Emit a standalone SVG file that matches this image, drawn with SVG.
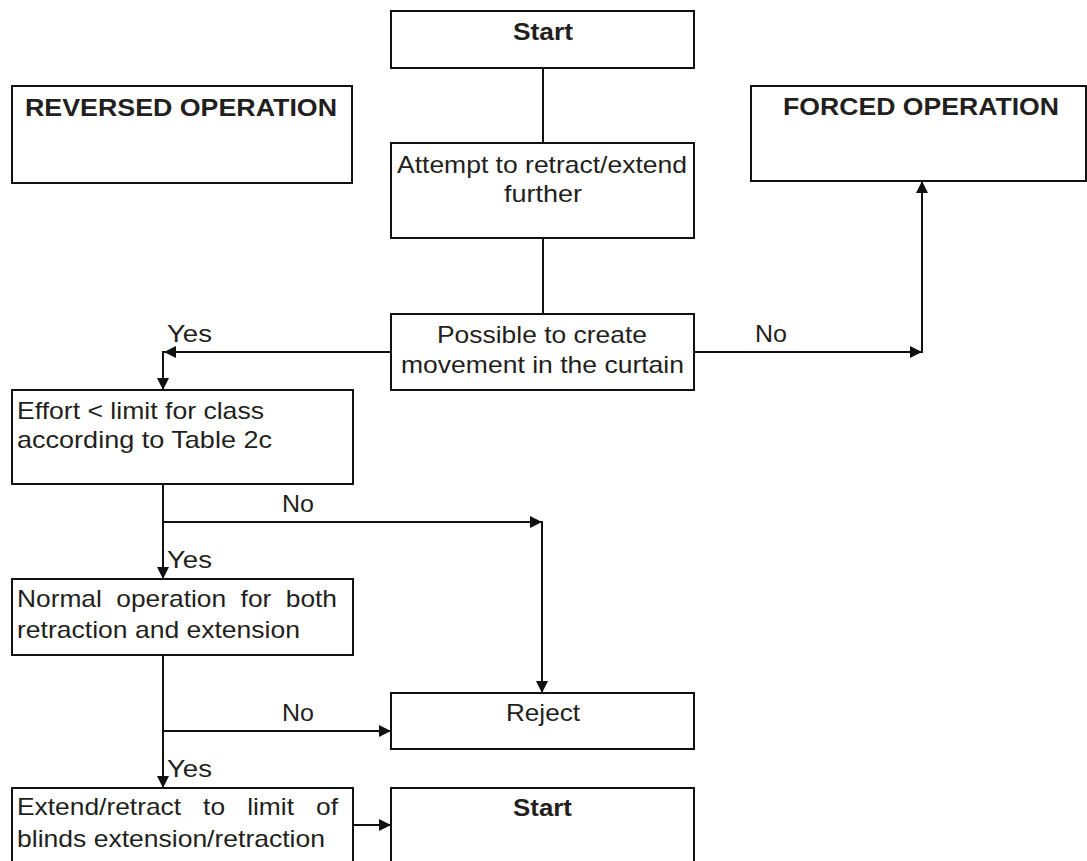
<svg xmlns="http://www.w3.org/2000/svg" width="1087" height="861" viewBox="0 0 1087 861">
<style>
.box{fill:#fff;stroke:#111;stroke-width:2}
.t{font-family:"Liberation Sans",Arial,sans-serif;font-size:24px;fill:#231f20}
.b{font-weight:bold}
.c{fill:none;stroke:#111;stroke-width:2}
</style>
<defs>
<marker id="ah" markerUnits="userSpaceOnUse" markerWidth="13" markerHeight="12" refX="12" refY="6" orient="auto">
<path d="M0,0 L12,6 L0,12 z" fill="#111"/>
</marker>
</defs>
<rect width="1087" height="861" fill="#fff"/>
<g id="connectors">
<path class="c" d="M543,68 V143"/>
<path class="c" d="M543,238 V314"/>
<path class="c" d="M391,352 H164" marker-end="url(#ah)"/>
<path class="c" d="M163,351 V390" marker-end="url(#ah)"/>
<path class="c" d="M694,352 H922" marker-end="url(#ah)"/>
<path class="c" d="M922,353 V181" marker-end="url(#ah)"/>
<path class="c" d="M163,484 V579" marker-end="url(#ah)"/>
<path class="c" d="M163,522 H542" marker-end="url(#ah)"/>
<path class="c" d="M542,521 V693" marker-end="url(#ah)"/>
<path class="c" d="M163,655 V788" marker-end="url(#ah)"/>
<path class="c" d="M163,731 H391" marker-end="url(#ah)"/>
<path class="c" d="M353,825 H391" marker-end="url(#ah)"/>
<text class="t" x="167" y="342" textLength="45" lengthAdjust="spacingAndGlyphs">Yes</text>
<text class="t" x="755" y="342" textLength="32" lengthAdjust="spacingAndGlyphs">No</text>
<text class="t" x="282" y="512" textLength="32" lengthAdjust="spacingAndGlyphs">No</text>
<text class="t" x="167" y="568" textLength="45" lengthAdjust="spacingAndGlyphs">Yes</text>
<text class="t" x="282" y="721" textLength="32" lengthAdjust="spacingAndGlyphs">No</text>
<text class="t" x="167" y="777" textLength="45" lengthAdjust="spacingAndGlyphs">Yes</text>
</g>
<g id="start-top">
<rect class="box" x="391" y="11" width="303" height="57"/>
<text class="t b" x="513" y="40" textLength="60" lengthAdjust="spacingAndGlyphs">Start</text>
</g>
<g id="reversed">
<rect class="box" x="12" y="86" width="340" height="97"/>
<text class="t b" x="25" y="116" textLength="312" lengthAdjust="spacingAndGlyphs">REVERSED OPERATION</text>
</g>
<g id="forced">
<rect class="box" x="751" y="86" width="335" height="95"/>
<text class="t b" x="783" y="115" textLength="276" lengthAdjust="spacingAndGlyphs">FORCED OPERATION</text>
</g>
<g id="attempt">
<rect class="box" x="391" y="143" width="303" height="95"/>
<text class="t" x="397" y="173" textLength="290" lengthAdjust="spacingAndGlyphs">Attempt to retract/extend</text>
<text class="t" x="504" y="202" textLength="78" lengthAdjust="spacingAndGlyphs">further</text>
</g>
<g id="possible">
<rect class="box" x="391" y="314" width="303" height="76"/>
<text class="t" x="437" y="343" textLength="210" lengthAdjust="spacingAndGlyphs">Possible to create</text>
<text class="t" x="401" y="373" textLength="283" lengthAdjust="spacingAndGlyphs">movement in the curtain</text>
</g>
<g id="effort">
<rect class="box" x="12" y="390" width="341" height="94"/>
<text class="t" x="17" y="419" textLength="247" lengthAdjust="spacingAndGlyphs">Effort &lt; limit for class</text>
<text class="t" x="17" y="448" textLength="255" lengthAdjust="spacingAndGlyphs">according to Table 2c</text>
</g>
<g id="normal">
<rect class="box" x="12" y="579" width="341" height="76"/>
<text class="t" x="17" y="607" style="word-spacing:6.5px" textLength="320" lengthAdjust="spacingAndGlyphs">Normal operation for both</text>
<text class="t" x="17" y="638" textLength="283" lengthAdjust="spacingAndGlyphs">retraction and extension</text>
</g>
<g id="reject">
<rect class="box" x="391" y="693" width="303" height="56"/>
<text class="t" x="506" y="721" textLength="74" lengthAdjust="spacingAndGlyphs">Reject</text>
</g>
<g id="extend">
<rect class="box" x="12" y="788" width="341" height="80"/>
<text class="t" x="17" y="815" style="word-spacing:13.4px" textLength="321" lengthAdjust="spacingAndGlyphs">Extend/retract to limit of</text>
<text class="t" x="17" y="847" textLength="308" lengthAdjust="spacingAndGlyphs">blinds extension/retraction</text>
</g>
<g id="start-bottom">
<rect class="box" x="391" y="788" width="303" height="80"/>
<text class="t b" x="513" y="816" textLength="59" lengthAdjust="spacingAndGlyphs">Start</text>
</g>
</svg>
